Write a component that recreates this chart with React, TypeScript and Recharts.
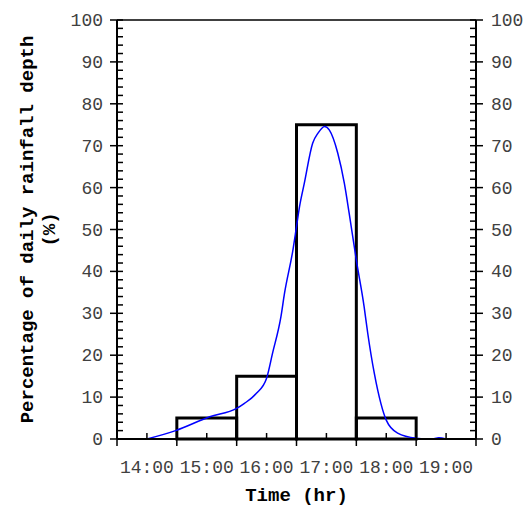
import React from "react";
import {
  LineChart,
  Line,
  XAxis,
  YAxis,
  ReferenceArea,
  ReferenceLine,
  Label,
} from "recharts";

// rainfall curve (hours, % of daily depth)
const rainTime = [
  14.0, 14.48, 15.05, 15.5, 15.63, 15.83, 16.0, 16.1, 16.24, 16.3, 16.44, 16.5,
  16.55, 16.63, 16.77, 16.86, 16.97, 17.05, 17.19, 17.3, 17.38, 17.5, 17.63,
  17.69, 17.8, 17.91, 18.0, 18.19, 18.5, 18.75, 18.88, 19.0,
];
const rainPct = [
  0, 2, 5.3, 7.3, 8.5, 10.9, 14.5, 20.5, 29.2, 34.8, 45.1, 50.7, 55.4, 61,
  70.6, 73, 74.6, 73.7, 68.2, 61, 53.9, 42.7, 31.6, 25.3, 15.7, 8.5, 4.5, 1.4,
  0.2, 0, 0.3, 0,
];

// hourly histogram bins
const binStart = [14.5, 15.5, 16.5, 17.5];
const binEnd = [15.5, 16.5, 17.5, 18.5];
const binPct = [5, 15, 75, 5];

const xTicks = [
  13.5, 14, 14.5, 15, 15.5, 16, 16.5, 17, 17.5, 18, 18.5, 19, 19.5,
];
const yTicks = Array.from({ length: 51 }, (_, i) => i * 2);

const data = rainTime.map((t, i) => ({ t, pct: rainPct[i] }));

const MONO = '"Liberation Mono", "Courier New", monospace';
const TICK_COLOR = "#404040";

const LeftTick = ({ x, y, payload }: any) => {
  const major = payload.value % 10 === 0;
  return (
    <g>
      <line
        x1={major ? x - 7 : x}
        x2={x + 6}
        y1={y}
        y2={y}
        stroke="#000"
        strokeWidth={1.5}
      />
      {major && (
        <text
          x={x - 14}
          y={y}
          dy={6}
          textAnchor="end"
          fontFamily={MONO}
          fontSize={18}
          fill={TICK_COLOR}
        >
          {payload.value}
        </text>
      )}
    </g>
  );
};

const RightTick = ({ x, y, payload }: any) => {
  const major = payload.value % 10 === 0;
  return (
    <g>
      <line
        x1={x - 6}
        x2={major ? x + 7 : x}
        y1={y}
        y2={y}
        stroke="#000"
        strokeWidth={1.5}
      />
      {major && (
        <text
          x={x + 15}
          y={y}
          dy={6}
          textAnchor="start"
          fontFamily={MONO}
          fontSize={18}
          fill={TICK_COLOR}
        >
          {payload.value}
        </text>
      )}
    </g>
  );
};

const BottomTick = ({ x, y, payload }: any) => {
  const hour = payload.value % 1 === 0;
  return (
    <g>
      <line
        x1={x}
        x2={x}
        y1={y - 6}
        y2={hour ? y : y + 7}
        stroke="#000"
        strokeWidth={1.5}
      />
      {hour && (
        <text
          x={x}
          y={y + 34}
          textAnchor="middle"
          fontFamily={MONO}
          fontSize={18}
          fill={TICK_COLOR}
        >
          {`${payload.value}:00`}
        </text>
      )}
    </g>
  );
};

const YTitle = ({ viewBox }: any) => {
  const cy = viewBox.y + viewBox.height / 2;
  const x1 = viewBox.x + 33;
  const x2 = viewBox.x + 55;
  const style = {
    fontFamily: MONO,
    fontSize: 19,
    fontWeight: "bold" as const,
    fill: "#000",
  };
  return (
    <g>
      <text
        x={x1}
        y={cy}
        textAnchor="middle"
        transform={`rotate(-90, ${x1}, ${cy})`}
        {...style}
      >
        Percentage of daily rainfall depth
      </text>
      <text
        x={x2}
        y={cy}
        textAnchor="middle"
        transform={`rotate(-90, ${x2}, ${cy})`}
        {...style}
      >
        (%)
      </text>
    </g>
  );
};

export default function App() {
  return (
    <div style={{ position: "absolute", left: 0, top: 0 }}>
      <LineChart
        width={531}
        height={507}
        data={data}
        margin={{ top: 20, right: 0, bottom: 0, left: 0 }}
      >
        <XAxis
          dataKey="t"
          type="number"
          domain={[13.5, 19.5]}
          ticks={xTicks}
          interval={0}
          allowDataOverflow
          height={68}
          tickSize={0}
          tickMargin={0}
          tickLine={false}
          axisLine={{ stroke: "#000", strokeWidth: 2 }}
          tick={<BottomTick />}
        >
          <Label
            value="Time (hr)"
            position="insideBottom"
            offset={6}
            style={{
              fontFamily: MONO,
              fontSize: 19,
              fontWeight: "bold",
              fill: "#000",
            }}
          />
        </XAxis>
        <YAxis
          yAxisId="left"
          type="number"
          domain={[0, 100]}
          ticks={yTicks}
          interval={0}
          width={117}
          tickSize={0}
          tickMargin={0}
          tickLine={false}
          axisLine={{ stroke: "#000", strokeWidth: 2 }}
          tick={<LeftTick />}
        >
          <Label content={<YTitle />} />
        </YAxis>
        <YAxis
          yAxisId="right"
          orientation="right"
          type="number"
          domain={[0, 100]}
          ticks={yTicks}
          interval={0}
          width={55}
          tickSize={0}
          tickMargin={0}
          tickLine={false}
          axisLine={{ stroke: "#000", strokeWidth: 2 }}
          tick={<RightTick />}
        />
        <ReferenceLine
          yAxisId="left"
          y={100}
          stroke="#000"
          strokeWidth={1.5}
        />
        {binPct.map((v, i) => (
          <ReferenceArea
            key={`bin-${i}`}
            yAxisId="left"
            x1={binStart[i]}
            x2={binEnd[i]}
            y1={0}
            y2={v}
            fill="none"
            fillOpacity={0}
            stroke="#000"
            strokeWidth={3}
            strokeOpacity={1}
          />
        ))}
        {/* invisible copy so the right axis has a series bound to it */}
        <Line
          yAxisId="right"
          dataKey="pct"
          stroke="none"
          dot={false}
          activeDot={false}
          legendType="none"
          isAnimationActive={false}
        />
        <Line
          yAxisId="left"
          dataKey="pct"
          type="monotone"
          stroke="#0000ff"
          strokeWidth={1.5}
          dot={false}
          isAnimationActive={false}
        />
      </LineChart>
    </div>
  );
}
